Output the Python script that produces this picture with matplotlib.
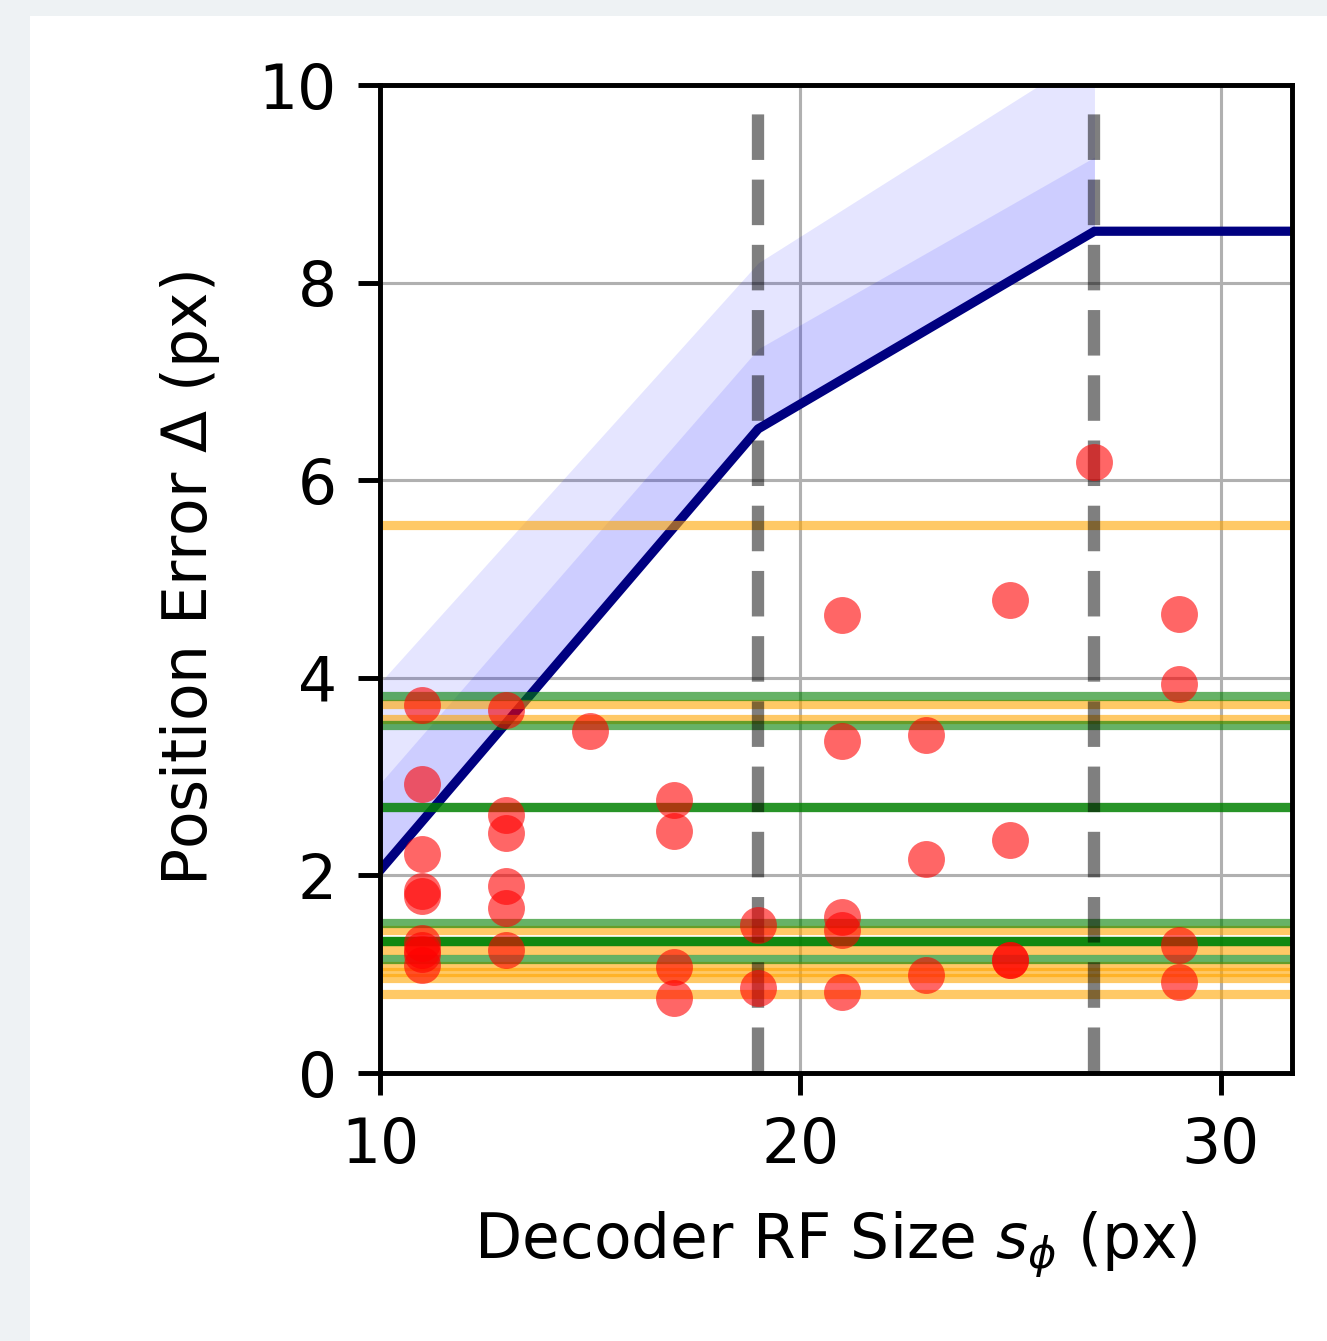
import matplotlib
matplotlib.use("Agg")
import matplotlib.pyplot as plt
from matplotlib.patches import Rectangle

# piecewise model of position error vs decoder RF size
band_x = [10, 19, 27]
model_mean = [2.05, 6.52, 8.52]
model_1sd = [2.93, 7.33, 9.27]
model_2sd = [3.95, 8.20, 10.35]
line_x = [10, 19, 27, 31.7]
line_y = [2.05, 6.52, 8.52, 8.52]

# transition sizes
rf_marks = [19, 27]

# reference error levels
orange_levels = [5.55, 3.735, 3.58, 1.45, 1.245, 1.08, 1.02, 0.96, 0.80]
green_levels = [3.82, 3.52, 2.69, 2.69, 1.52, 1.34, 1.34, 1.34, 1.15]

# measured errors per RF size
rf_size = [11, 11, 11, 11, 11, 11, 11, 11, 11,
           13, 13, 13, 13, 13, 13,
           15,
           17, 17, 17, 17,
           19, 19,
           21, 21, 21, 21, 21,
           23, 23, 23,
           25, 25, 25, 25,
           27,
           29, 29, 29, 29]
pos_err = [3.72, 2.93, 2.22, 1.84, 1.79, 1.32, 1.25, 1.20, 1.09,
           3.67, 2.61, 2.43, 1.89, 1.67, 1.25,
           3.46,
           2.76, 2.45, 1.07, 0.76,
           1.50, 0.86,
           4.64, 3.36, 1.58, 1.45, 0.82,
           3.42, 2.17, 0.99,
           4.79, 2.36, 1.14, 1.14,
           6.18,
           4.65, 3.94, 1.30, 0.92]

dpi = 443
fig = plt.figure(figsize=(1327 / dpi, 1341 / dpi), dpi=dpi, facecolor="#eef2f4")
fig.add_artist(Rectangle((30 / 1327, 0), 1, 1 - 16 / 1341,
                         transform=fig.transFigure, facecolor="white",
                         edgecolor="none", zorder=-10))

ax = fig.add_axes([380 / 1327, 1 - 1073 / 1341, 912 / 1327, 988 / 1341])
ax.grid(True, color="#b0b0b0", lw=0.5, zorder=0)
ax.set_axisbelow(True)

ax.fill_between(band_x, model_mean, model_2sd, color="blue", alpha=0.1, lw=0)
ax.fill_between(band_x, model_mean, model_1sd, color="blue", alpha=0.1, lw=0)
ax.plot(line_x, line_y, color="navy", lw=1.5)

for v in orange_levels:
    ax.axhline(v, color="orange", alpha=0.6, lw=1.5)
for v in green_levels:
    ax.axhline(v, color="green", alpha=0.6, lw=1.5)

for m in rf_marks:
    ax.axvline(m, ymax=0.978, color="k", alpha=0.5, ls="--", lw=2)

ax.scatter(rf_size, pos_err, s=36, color="red", alpha=0.6, lw=0, zorder=3)

ax.set_xlim(10, 31.7)
ax.set_ylim(0, 10)
ax.set_xticks([10, 20, 30])
ax.set_yticks([0, 2, 4, 6, 8, 10])
ax.set_xlabel(r"Decoder RF Size $s_\phi$ (px)", labelpad=5.5)
ax.set_ylabel(r"Position Error $\Delta$ (px)", labelpad=6)

fig.savefig("out.png", dpi=dpi, facecolor=fig.get_facecolor())
